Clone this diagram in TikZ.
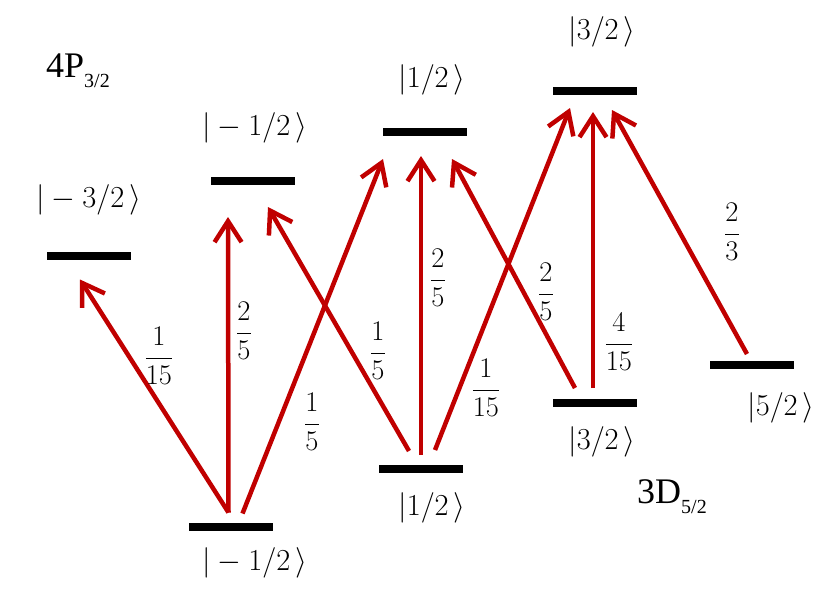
\RequirePackage{fix-cm}
\documentclass[tikz,border=0pt]{standalone}
\usepackage{fontspec}
\newfontfamily\tms{Liberation Serif}
\usetikzlibrary{arrows.meta}
\definecolor{arrred}{RGB}{192,0,0}
\begin{document}
\begin{tikzpicture}[x=1pt,y=1pt,
  lvl/.style={fill=black,minimum width=84pt,minimum height=8pt,inner sep=0pt,outer sep=0pt},
  arr/.style={draw=arrred,line width=4.5pt,-{Straight Barb[length=21pt,width=27pt]}},
  ket/.style={inner sep=0pt,font=\fontsize{30.5}{34}\selectfont},
  frac/.style={inner sep=0pt,font=\fontsize{28.5}{32}\selectfont},
  term/.style={inner sep=0pt,font=\tms\fontsize{36}{40}\selectfont}]
\useasboundingbox (0,0) rectangle (830,-608);
% levels
\node[lvl] (pm3) at (89,-255.5) {};
\node[lvl] (pm1) at (253,-181) {};
\node[lvl] (pp1) at (424.5,-132) {};
\node[lvl] (pp3) at (595,-91) {};
\node[lvl] (dm1) at (230.5,-526.5) {};
\node[lvl] (dp1) at (421,-469) {};
\node[lvl] (dp3) at (595,-403) {};
\node[lvl] (dp5) at (751.5,-364.5) {};
% ket labels
\node[ket] (kpm3) at (89,-200) {$|-3/2\,\rangle$};
\node[ket] (kpm1) at (255,-128) {$|-1/2\,\rangle$};
\node[ket] (kpp1) at (432,-80) {$|1/2\,\rangle$};
\node[ket] (kpp3) at (602,-32) {$|3/2\,\rangle$};
\node[ket] (kdm1) at (255,-563) {$|-1/2\,\rangle$};
\node[ket] (kdp1) at (432,-508) {$|1/2\,\rangle$};
\node[ket] (kdp3) at (602,-442) {$|3/2\,\rangle$};
\node[ket] (kdp5) at (781,-408) {$|5/2\,\rangle$};
% term labels
\node[term,anchor=base west] (tp) at (46,-77) {4P\raisebox{-0.28em}{\fontsize{20}{20}\selectfont 3/2}};
\node[term,anchor=base west] (td) at (637,-503) {3D\raisebox{-0.28em}{\fontsize{20}{20}\selectfont 5/2}};
% transitions
\draw[arr] ([xshift=-2pt,yshift=10pt]dm1.north) -- ([xshift=-9pt,yshift=-20pt]pm3.south);
\draw[arr] ([xshift=-2pt,yshift=10pt]dm1.north) -- ([xshift=-25pt,yshift=-32pt]pm1.south);
\draw[arr] ([xshift=12pt,yshift=9pt]dm1.north) -- ([xshift=-41.5pt,yshift=-23pt]pp1.south);
\draw[arr] ([xshift=-12pt,yshift=14pt]dp1.north) -- ([xshift=15pt,yshift=-22pt]pm1.south);
\draw[arr] ([xshift=0pt,yshift=10pt]dp1.north) -- ([xshift=-3.5pt,yshift=-20pt]pp1.south);
\draw[arr] ([xshift=14pt,yshift=15pt]dp1.north) -- ([xshift=-25pt,yshift=-13pt]pp3.south);
\draw[arr] ([xshift=-20pt,yshift=11pt]dp3.north) -- ([xshift=27.5pt,yshift=-23pt]pp1.south);
\draw[arr] ([xshift=-2pt,yshift=11pt]dp3.north) -- ([xshift=-2pt,yshift=-17pt]pp3.south);
\draw[arr] ([xshift=-4.5pt,yshift=6.5pt]dp5.north) -- ([xshift=17pt,yshift=-15pt]pp3.south);
% branching ratios
\node[frac] (f1) at (159,-356) {$\displaystyle\frac{1}{15}$};
\node[frac] (f2) at (244,-331) {$\displaystyle\frac{2}{5}$};
\node[frac] (f3) at (312,-422) {$\displaystyle\frac{1}{5}$};
\node[frac] (f4) at (378,-351) {$\displaystyle\frac{1}{5}$};
\node[frac] (f5) at (438,-278) {$\displaystyle\frac{2}{5}$};
\node[frac] (f6) at (486,-388) {$\displaystyle\frac{1}{15}$};
\node[frac] (f7) at (546,-292) {$\displaystyle\frac{2}{5}$};
\node[frac] (f8) at (619,-342) {$\displaystyle\frac{4}{15}$};
\node[frac] (f9) at (732,-232) {$\displaystyle\frac{2}{3}$};
\end{tikzpicture}
\end{document}
